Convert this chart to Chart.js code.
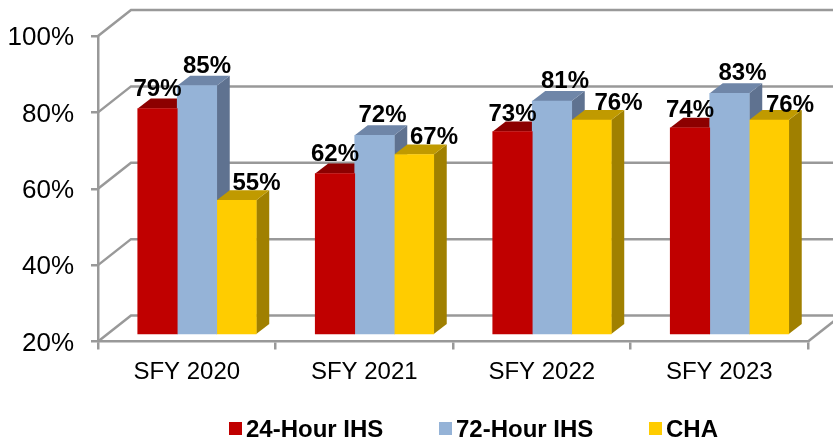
<!DOCTYPE html>
<html>
<head>
<meta charset="utf-8">
<style>
  html, body { margin: 0; padding: 0; background: #fff; }
  canvas { display: block; }
</style>
</head>
<body>
<canvas id="chart" width="833" height="437"></canvas>
<script src="https://cdn.jsdelivr.net/npm/chart.js@4/dist/chart.umd.min.js"></script>
<script>
const categories = ['SFY 2020', 'SFY 2021', 'SFY 2022', 'SFY 2023'];
const ihs24 = [79, 62, 73, 74];
const ihs72 = [85, 72, 81, 83];
const cha = [55, 67, 76, 76];
const yTicks = [20, 40, 60, 80, 100];

// label shift from bar centre, one row per series (PowerPoint moved them by hand)
const labelDx = [
  [0, 0, 0, 0],
  [10, 8, 13, 13],
  [20, 20, 27, 21]
];
const labelDy = [
  [13, 13, 11, 11],
  [13, 13, 13, 13],
  [10, 10, 10, 8]
];

const FONT = '"Liberation Sans", Arial, sans-serif';
const GRID = '#999999';
const WALL_X = 33, WALL_Y = 26;   // depth of the back wall
const BAR_X = 13, BAR_Y = 10;     // depth of one bar

const seriesStyle = [
  { name: '24-Hour IHS', values: ihs24, front: '#c00000', top: '#8c0000', side: '#8c0000', legendX: 229 },
  { name: '72-Hour IHS', values: ihs72, front: '#95b3d7', top: '#6f86a8', side: '#5f7290', legendX: 439 },
  { name: 'CHA', values: cha, front: '#ffcc00', top: '#c09a00', side: '#a08000', legendX: 649 }
];

const poly = (ctx, pts, color) => {
  ctx.fillStyle = color;
  ctx.beginPath();
  pts.forEach((p, i) => i ? ctx.lineTo(p[0], p[1]) : ctx.moveTo(p[0], p[1]));
  ctx.closePath();
  ctx.fill();
};

// back wall, floor and the slanted lines
const wallPlugin = {
  id: 'wall',
  beforeDatasetsDraw(chart) {
    const { ctx, chartArea, scales } = chart;
    ctx.save();
    ctx.strokeStyle = GRID;
    ctx.lineWidth = 2.5;
    yTicks.forEach(t => {
      const y = scales.y.getPixelForValue(t);
      ctx.beginPath();
      ctx.moveTo(chartArea.left, y);
      ctx.lineTo(chartArea.left + WALL_X, y - WALL_Y);
      ctx.lineTo(chartArea.right + WALL_X, y - WALL_Y);
      ctx.stroke();
    });
    ctx.beginPath();
    ctx.moveTo(chartArea.right, chartArea.bottom);
    ctx.lineTo(chartArea.right + WALL_X, chartArea.bottom - WALL_Y);
    ctx.stroke();
    ctx.restore();
  }
};

// side and top faces of each bar, the front face comes from the bar element
const depthPlugin = {
  id: 'depth',
  beforeDatasetsDraw(chart) {
    const { ctx } = chart;
    ctx.save();
    seriesStyle.forEach((s, di) => {
      chart.getDatasetMeta(di).data.forEach(bar => {
        const r = bar.x + bar.width / 2, l = bar.x - bar.width / 2;
        poly(ctx, [[r, bar.y], [r + BAR_X, bar.y - BAR_Y], [r + BAR_X, bar.base - BAR_Y], [r, bar.base]], s.side);
        poly(ctx, [[l, bar.y], [l + BAR_X, bar.y - BAR_Y], [r + BAR_X, bar.y - BAR_Y], [r, bar.y]], s.top);
      });
    });
    ctx.restore();
  }
};

const labelPlugin = {
  id: 'barLabels',
  afterDatasetsDraw(chart) {
    const { ctx } = chart;
    ctx.save();
    ctx.font = 'bold 24px ' + FONT;
    ctx.fillStyle = '#000';
    ctx.textAlign = 'center';
    ctx.textBaseline = 'alphabetic';
    seriesStyle.forEach((s, di) => {
      chart.getDatasetMeta(di).data.forEach((bar, i) => {
        ctx.fillText(s.values[i] + '%', bar.x + labelDx[di][i], bar.y - labelDy[di][i]);
      });
    });
    ctx.restore();
  }
};

// the built-in legend forces a wide gap between box and text, so draw it here
const legendPlugin = {
  id: 'bottomLegend',
  afterDraw(chart) {
    const { ctx } = chart;
    ctx.save();
    ctx.font = 'bold 24px ' + FONT;
    ctx.textAlign = 'left';
    ctx.textBaseline = 'alphabetic';
    seriesStyle.forEach(s => {
      ctx.fillStyle = s.front;
      ctx.fillRect(s.legendX, 422, 13, 13);
      ctx.fillStyle = '#000';
      ctx.fillText(s.name, s.legendX + 17, 437);
    });
    ctx.restore();
  }
};

new Chart(document.getElementById('chart').getContext('2d'), {
  type: 'bar',
  data: {
    labels: categories,
    datasets: seriesStyle.map(s => ({
      label: s.name,
      data: s.values.map((v, i) => ({ x: i, y: v })),
      backgroundColor: s.front,
      base: 20,
      xAxisID: 'xBar',
      yAxisID: 'yBar'
    }))
  },
  plugins: [wallPlugin, depthPlugin, labelPlugin, legendPlugin],
  options: {
    responsive: false,
    animation: false,
    barThickness: 39.5,
    layout: { padding: { top: 36, right: 25, left: 0, bottom: 0 } },
    plugins: { legend: { display: false }, tooltip: { enabled: false } },
    scales: {
      x: {
        type: 'category',
        offset: true,
        afterFit: s => { s.height = 95.5; },
        grid: { offset: true, drawOnChartArea: false, color: GRID, lineWidth: 2.5, tickLength: 8 },
        border: { color: GRID, width: 2.5 },
        ticks: { color: '#000', font: { family: FONT, size: 24 }, padding: 8, maxRotation: 0 }
      },
      y: {
        type: 'linear',
        min: 20,
        max: 100,
        afterFit: s => { s.width = 98; },
        afterBuildTicks: s => { s.ticks = yTicks.map(v => ({ value: v })); },
        grid: { drawOnChartArea: false, color: GRID, lineWidth: 2.5, tickLength: 7 },
        border: { color: GRID, width: 2.5 },
        ticks: { color: '#000', font: { family: FONT, size: 26 }, padding: 17, labelOffset: 2, callback: v => v + '%' }
      },
      // bars stand a little inside the box, so they get their own hidden scales
      xBar: { type: 'linear', display: false, offset: false, min: -0.5577, max: 3.4423 },
      yBar: { type: 'linear', display: false, min: 18.04, max: 98.01 }
    }
  }
});
</script>
</body>
</html>
